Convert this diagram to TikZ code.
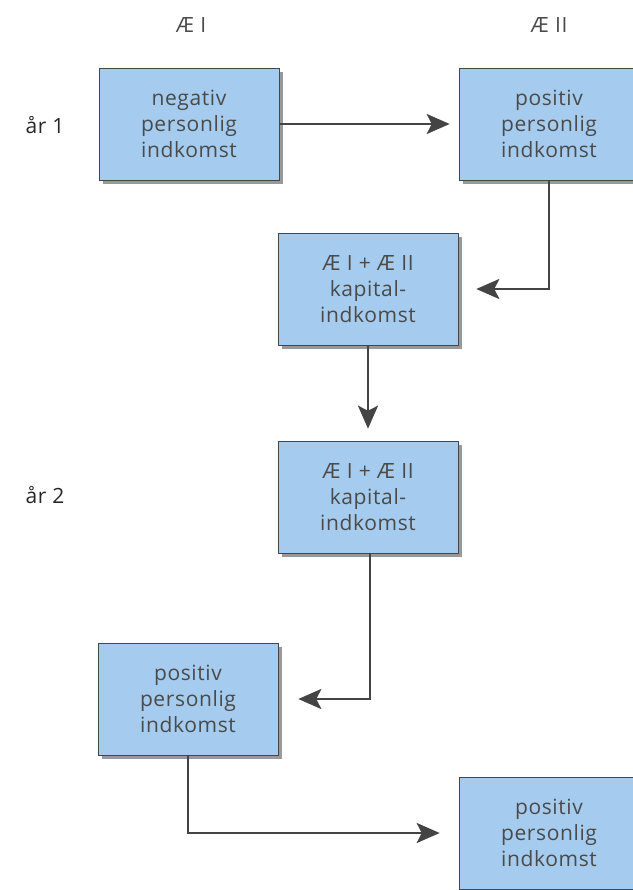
\documentclass[tikz,border=0pt]{standalone}
\usepackage{fontspec}
\setmainfont{Open Sans}
\newfontfamily\boksfont[LetterSpace=3]{Open Sans}
\usepackage{xcolor}
\usepackage{tikz}
\usetikzlibrary{arrows.meta,shadows}

\definecolor{boksblaa}{HTML}{A5CCEE}
\definecolor{tekstgraa}{HTML}{4A4A4A}
\definecolor{liniegraa}{HTML}{444444}

\tikzset{
  boks/.style={draw=gray!55!black,
               line width=0.6pt,
               fill=boksblaa,
               minimum width=180pt,
               minimum height=112pt,
               align=center,
               text=tekstgraa,
               font=\boksfont\fontsize{21}{26}\selectfont,
               drop shadow={shadow xshift=4pt, shadow yshift=-4pt, fill=gray!80, opacity=1}
               },
  pil/.style={draw=liniegraa,
              line width=2.4pt,
              -{Stealth[length=23pt, width=20pt, inset=5pt]}
              },
  hoved/.style={text=tekstgraa, font=\boksfont\fontsize{21}{26}\selectfont}
}

\begin{document}
\begin{tikzpicture}[x=1pt, y=-1pt]
  \useasboundingbox (0,0) rectangle (632,890);

  % overskrifter
  \node[hoved] (ae1) at (191,25) {Æ I};
  \node[hoved] (ae2) at (549,25) {Æ II};
  \node[hoved, text=black!85] (aar1) at (45,125) {år 1};
  \node[hoved, text=black!85] (aar2) at (45,495) {år 2};

  % kasser
  \node[boks] (neg1) at (189,124) {negativ\\personlig\\indkomst};
  \node[boks] (pos1) at (549,124) {positiv\\personlig\\indkomst};
  \node[boks] (kap1) at (368,289) {Æ I + Æ II\\kapital-\\indkomst};
  \node[boks] (kap2) at (368,497) {Æ I + Æ II\\kapital-\\indkomst};
  \node[boks] (pos2) at (188,699) {positiv\\personlig\\indkomst};
  \node[boks] (pos3) at (549,833) {positiv\\personlig\\indkomst};

  % pile
  \draw[pil, shorten >=9pt] (neg1.east) -- (pos1.west);
  \draw[pil, shorten >=18pt] (pos1.south) |- (kap1.east);
  \draw[pil, shorten >=12pt] (kap1.south) -- (kap2.north);
  \draw[pil, shorten >=20pt] ([xshift=2pt]kap2.south) |- (pos2.east);
  \draw[pil, shorten >=19pt] (pos2.south) |- (pos3.west);
\end{tikzpicture}
\end{document}
